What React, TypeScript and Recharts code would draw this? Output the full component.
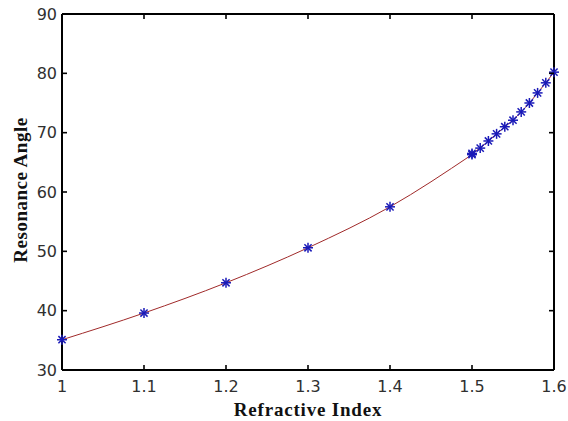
import React from 'react';
import { LineChart, Line, XAxis, YAxis, Label, ReferenceLine } from 'recharts';

// Coarse sweep (step 0.1)
const coarseIndex = [1.0, 1.1, 1.2, 1.3, 1.4, 1.5];
const coarseAngle = [35.1, 39.6, 44.7, 50.6, 57.5, 66.3];
// Fine sweep (step 0.01)
const fineIndex = [1.5, 1.51, 1.52, 1.53, 1.54, 1.55, 1.56, 1.57, 1.58, 1.59, 1.6];
const fineAngle = [66.5, 67.4, 68.6, 69.8, 71.0, 72.1, 73.5, 75.0, 76.7, 78.4, 80.2];

const xTicks = [1, 1.1, 1.2, 1.3, 1.4, 1.5, 1.6];
const yTicks = [30, 40, 50, 60, 70, 80, 90];

const coarseData = coarseIndex.map((x, i) => ({ x, y: coarseAngle[i] }));
const fineData = fineIndex.map((x, i) => ({ x, y: fineAngle[i] }));

const W = 568;
const H = 421;
const M = { top: 14, right: 14, bottom: 0, left: 0 };
const X_AXIS_H = 51;
const Y_AXIS_W = 62;
const PLOT_TOP = M.top;
const PLOT_BOTTOM = H - M.bottom - X_AXIS_H;
const PLOT_LEFT = M.left + Y_AXIS_W;
const PLOT_RIGHT = W - M.right;
const TICK_LEN = 5;

const LINE_COLOR = '#a02a2a';
const MARK_COLOR = '#1a1ab8';
const TICK_STYLE = { fontFamily: 'DejaVu Sans', fontSize: 16, fill: '#303030' };

const Star = (props: any) => {
  const { cx, cy } = props;
  if (cx == null || cy == null) return <g />;
  const r = 5;
  const d = r * 0.72;
  return (
    <g stroke={MARK_COLOR} strokeWidth={1.5}>
      <line x1={cx - r} y1={cy} x2={cx + r} y2={cy} />
      <line x1={cx} y1={cy - r} x2={cx} y2={cy + r} />
      <line x1={cx - d} y1={cy - d} x2={cx + d} y2={cy + d} />
      <line x1={cx - d} y1={cy + d} x2={cx + d} y2={cy - d} />
    </g>
  );
};

const fmtX = (v: number) => (v === 1 ? '1' : v.toFixed(1));

const XTick = (props: any) => {
  const { x, y, payload } = props;
  return (
    <g>
      <line x1={x} x2={x} y1={PLOT_BOTTOM} y2={PLOT_BOTTOM - TICK_LEN} stroke="#000" strokeWidth={1.6} />
      <line x1={x} x2={x} y1={PLOT_TOP} y2={PLOT_TOP + TICK_LEN} stroke="#000" strokeWidth={1.6} />
      <text x={x} y={y} dy="0.75em" textAnchor="middle" style={TICK_STYLE}>
        {fmtX(payload.value)}
      </text>
    </g>
  );
};

const YTick = (props: any) => {
  const { x, y, payload } = props;
  return (
    <g>
      <line x1={PLOT_LEFT} x2={PLOT_LEFT + TICK_LEN} y1={y} y2={y} stroke="#000" strokeWidth={1.6} />
      <line x1={PLOT_RIGHT} x2={PLOT_RIGHT - TICK_LEN} y1={y} y2={y} stroke="#000" strokeWidth={1.6} />
      <text x={x} y={y} dy="0.36em" textAnchor="end" style={TICK_STYLE}>
        {payload.value}
      </text>
    </g>
  );
};

export default function App() {
  const axisLine = { stroke: '#000', strokeWidth: 2 };
  return (
    <div style={{ position: 'absolute', left: 0, top: 0, background: '#fff' }}>
      <LineChart width={W} height={H} margin={M}>
        <XAxis
          xAxisId="b"
          dataKey="x"
          type="number"
          domain={[1, 1.6]}
          ticks={xTicks}
          height={X_AXIS_H}
          tickSize={0}
          tickMargin={10}
          axisLine={axisLine}
          tickLine={false}
          tick={<XTick />}
        >
          <Label
            position="insideBottom"
            offset={5}
            value="Refractive Index"
            style={{ fontFamily: 'Liberation Serif', fontWeight: 'bold', fontSize: 19, letterSpacing: 0.8, fill: '#111' }}
          />
        </XAxis>
        <YAxis
          yAxisId="l"
          type="number"
          domain={[30, 90]}
          ticks={yTicks}
          width={Y_AXIS_W}
          tickSize={0}
          tickMargin={5}
          axisLine={axisLine}
          tickLine={false}
          tick={<YTick />}
        >
          <Label
            content={() => (
              <text
                x={20}
                y={190}
                transform="rotate(-90 20 190)"
                textAnchor="middle"
                dominantBaseline="central"
                style={{ fontFamily: 'Liberation Serif', fontWeight: 'bold', fontSize: 19, letterSpacing: 0.5, fill: '#111' }}
              >
                Resonance Angle
              </text>
            )}
          />
        </YAxis>
        <ReferenceLine xAxisId="b" yAxisId="l" y={90} stroke="#000" strokeWidth={2} ifOverflow="visible" />
        <ReferenceLine xAxisId="b" yAxisId="l" x={1.6} stroke="#000" strokeWidth={2} ifOverflow="visible" />
        <Line
          xAxisId="b"
          yAxisId="l"
          data={coarseData}
          dataKey="y"
          type="monotone"
          stroke={LINE_COLOR}
          strokeWidth={1}
          dot={(p: any) => <Star key={'c' + p.index} {...p} />}
          isAnimationActive={false}
        />
        <Line
          xAxisId="b"
          yAxisId="l"
          data={fineData}
          dataKey="y"
          type="monotone"
          stroke={LINE_COLOR}
          strokeWidth={1}
          dot={(p: any) => <Star key={'f' + p.index} {...p} />}
          isAnimationActive={false}
        />
      </LineChart>
    </div>
  );
}
